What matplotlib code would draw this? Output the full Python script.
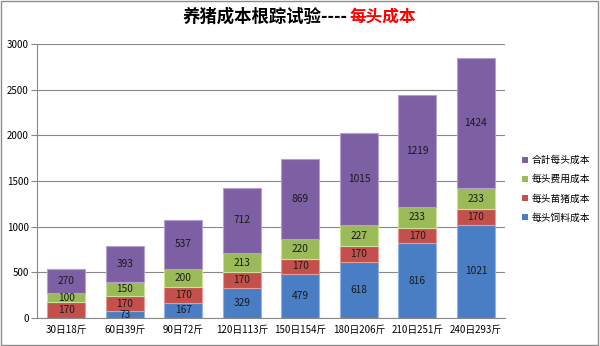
import numpy as np
import matplotlib.pyplot as plt
import matplotlib as mpl
from matplotlib.patches import Patch, Rectangle

mpl.rcParams['font.family'] = ['Noto Sans CJK SC', 'DejaVu Sans']

# stage labels (days / weight in jin)
stages = ['30日18斤', '60日39斤', '90日72斤', '120日113斤',
          '150日154斤', '180日206斤', '210日251斤', '240日293斤']

# per-head costs, stacked bottom to top
feed = [0, 73, 167, 329, 479, 618, 816, 1021]          # 每头饲料成本
piglet = [170, 170, 170, 170, 170, 170, 170, 170]      # 每头苗猪成本
fees = [100, 150, 200, 213, 220, 227, 233, 233]        # 每头费用成本
total = [270, 393, 537, 712, 869, 1015, 1219, 1424]    # 合計每头成本

series = [
    ('每头饲料成本', feed, '#4a7ec4', '#8fb3e6'),
    ('每头苗猪成本', piglet, '#c4504c', '#e89a96'),
    ('每头费用成本', fees, '#9bbb59', '#c9e39a'),
    ('合計每头成本', total, '#7d5fa3', '#b5a0d0'),
]

fig = plt.figure(figsize=(6, 3.46), dpi=100)
ax = fig.add_axes([0.062, 0.081, 0.78, 0.792])

x = np.arange(len(stages))
bottom = np.zeros(len(stages))
for name, vals, col, rim in series:
    vals = np.array(vals, dtype=float)
    ax.bar(x, vals, 0.65, bottom=bottom, color=col, edgecolor=rim,
           linewidth=0.8, zorder=3)
    for xi, b, v in zip(x, bottom, vals):
        if v > 0:
            ax.text(xi, b + v / 2, f'{int(v)}', ha='center', va='center',
                    fontsize=7.3, color='#1a1a1a', zorder=4)
    bottom += vals

ax.set_xlim(-0.5, len(stages) - 0.5)
ax.set_ylim(0, 3000)
ax.set_yticks(np.arange(0, 3001, 500))
ax.set_xticks(x)
ax.set_xticklabels(stages)
ax.tick_params(axis='x', length=0, labelsize=7, pad=5)
ax.tick_params(axis='y', length=4, direction='out', color='#888888',
               labelsize=7, pad=2)
ax.grid(axis='y', color='#888888', linewidth=0.8, zorder=0)
for s in ['top', 'right']:
    ax.spines[s].set_visible(False)
ax.spines['left'].set_color('#888888')
ax.spines['bottom'].set_color('#888888')

handles = [Patch(facecolor=c, edgecolor='none', label=n) for n, v, c, r in series[::-1]]
fig.legend(handles=handles, loc='center left', bbox_to_anchor=(0.855, 0.454),
           frameon=False, fontsize=7, handlelength=0.6, handleheight=0.6,
           handletextpad=0.4, labelspacing=0.95)

# title: black part and red part
fig.text(0.579, 0.953, '养猪成本根踪试验----', ha='right', va='center',
         fontsize=12.5, fontweight='bold', color='black')
fig.text(0.583, 0.953, '每头成本', ha='left', va='center',
         fontsize=12, fontweight='bold', color='#ff0000')

fig.add_artist(Rectangle((0.002, 0.003), 0.995, 0.994, transform=fig.transFigure,
                         fill=False, edgecolor='#8c8c8c', linewidth=1))

fig.savefig('out.png', dpi=100, facecolor='white')
